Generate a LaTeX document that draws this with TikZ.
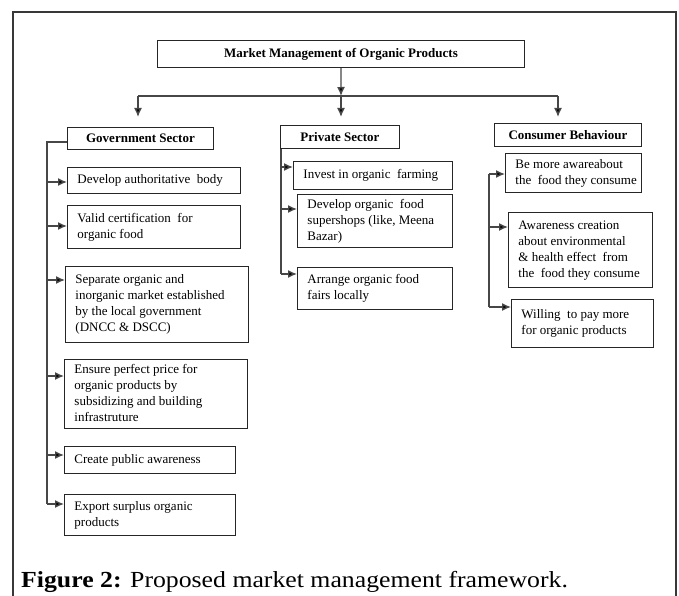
\documentclass[tikz,border=0pt]{standalone}
\usepackage{fontspec}
\setmainfont{Liberation Serif}
\newfontfamily\capfont[FakeStretch=1.12]{Liberation Serif}
\usetikzlibrary{arrows.meta}
\tikzset{
  bx/.style={draw=black!85, line width=0.9pt, inner xsep=0pt, inner ysep=0pt, anchor=north west, font=\fontsize{13}{16}\selectfont},
  hd/.style={bx, font=\fontsize{13}{15}\selectfont\bfseries, align=center},
  conn/.style={draw=black!72, line width=1.4pt},
  arr/.style={conn, -{Latex[length=9pt,width=8pt,fill=black]}},
  frame/.style={draw=black!78, line width=2pt}
}
\newcommand\mybox[7][bx]{%
  \pgfmathsetmacro\bw{#4-#2}\pgfmathsetmacro\bh{#5-#3}\pgfmathsetmacro\tw{#4-#2-20}%
  \node[#1, minimum width=\bw pt, minimum height=\bh pt] (#6) at (#2,#3)
    {\makebox[\tw pt][l]{\begin{tabular}{@{}l@{}}#7\end{tabular}}};}
\newcommand\myhead[6]{%
  \pgfmathsetmacro\bw{#3-#1}\pgfmathsetmacro\bh{#4-#2}%
  \node[hd, minimum width=\bw pt, minimum height=\bh pt] (#5) at (#1,#2) {#6};}
\begin{document}
\begin{tikzpicture}[x=1pt,y=-1pt]
\useasboundingbox (0,0) rectangle (679,596);
\draw[frame] (13,597) -- (13,12) -- (676,12) -- (676,597);
% headings
\myhead{157}{40}{524}{67}{title}{Market Management of Organic Products}
\myhead{67}{127}{213}{149}{gov}{Government Sector}
\myhead{280}{125}{399}{148}{priv}{Private Sector}
\myhead{494}{123}{641}{146}{cons}{Consumer Behaviour}
% government items
\mybox{67}{167}{240}{193}{g1}{Develop authoritative\ \ body}
\mybox{67}{205}{240}{248}{g2}{Valid certification\ \ for\\organic food}
\mybox{65}{266}{248}{342}{g3}{Separate organic and\\inorganic market established\\by the local government\\(DNCC \& DSCC)}
\mybox{64}{359}{247}{428}{g4}{Ensure perfect price for\\organic products by\\subsidizing and building\\infrastruture}
\mybox{64}{446}{235}{473}{g5}{Create public awareness}
\mybox{64}{494}{235}{535}{g6}{Export surplus organic\\products}
% private items
\mybox{293}{161}{452}{189}{p1}{Invest in organic\ \ farming}
\mybox{297}{194}{452}{247}{p2}{Develop organic\ \ food\\supershops (like, Meena\\Bazar)}
\mybox{297}{267}{452}{309}{p3}{Arrange organic food\\fairs locally}
% consumer items
\mybox{505}{153}{641}{192}{c1}{Be more awareabout\\the\ \ food they consume}
\mybox{508}{212}{652}{287}{c2}{Awareness creation\\about environmental\\\&\ health effect\ \ from\\the\ \ food they consume}
\mybox{511}{299}{653}{347}{c3}{Willing\ \ to pay more\\for organic products}
% top connectors
\coordinate (hub) at (341,96);
\coordinate (hl) at (138,96);
\coordinate (hr) at (558,96);
\draw[arr] (title.south) -- (hub);
\draw[conn] (hl) -- (hr);
\draw[arr] (hl) -- (138,117);
\draw[arr] (hub) -- (341,117);
\draw[arr] (hr) -- (558,117);
% government trunk
\coordinate (gt) at (47,142);
\coordinate (gb) at (47,504);
\draw[conn] (gov.west |- gt) -- (gt) -- (gb);
\foreach \n/\y in {g1/182,g2/226,g3/280,g4/376,g5/455,g6/504}{
  \coordinate (a\n) at (47,\y);
  \draw[arr] (a\n) -- (a\n -| \n.west);
}
% private trunk
\coordinate (pt) at (281,274);
\draw[conn] (priv.south west -| pt) -- (pt);
\foreach \n/\y in {p1/167,p2/209,p3/274}{
  \coordinate (a\n) at (281,\y);
  \draw[arr] (a\n) -- (a\n -| \n.west);
}
% consumer trunk
\coordinate (ct) at (489,174);
\coordinate (cb) at (489,307);
\draw[conn] (ct) -- (cb);
\foreach \n/\y in {c1/174,c2/227,c3/307}{
  \coordinate (a\n) at (489,\y);
  \draw[arr] (a\n) -- (a\n -| \n.west);
}
% caption
\node[anchor=base west, inner sep=0pt, font=\capfont\fontsize{23}{26}\selectfont] (cap) at (21,587)
  {\textbf{Figure 2:} Proposed market management framework.};
\end{tikzpicture}
\end{document}
